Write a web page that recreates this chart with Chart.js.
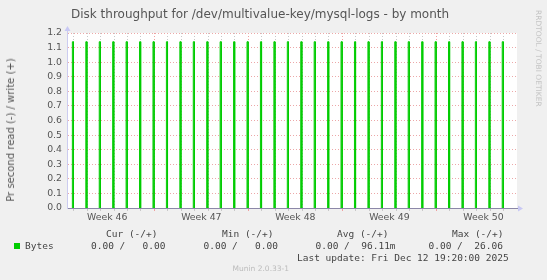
<!DOCTYPE html>
<html>
<head>
<meta charset="utf-8">
<script src="https://cdn.jsdelivr.net/npm/chart.js@4"></script>
<style>
  html, body { margin: 0; padding: 0; background: #f0f0f0; }
  #wrap { position: relative; width: 547px; height: 280px; overflow: hidden; background: #f0f0f0; }
  #wrap canvas { position: absolute; left: 0; top: 0; }
  .t { position: absolute; white-space: pre; line-height: 1; color: #444; font-family: "DejaVu Sans"; }
  .m { font-family: "DejaVu Sans Mono"; font-size: 9.5px; }
</style>
</head>
<body>
<div id="wrap">
  <canvas id="chart" width="547" height="280"></canvas>
  <div class="t" style="left:71px;top:8px;font-size:12px;color:#555">Disk throughput for /dev/multivalue-key/mysql-logs - by month</div>
  <div class="t" style="left:11px;top:130px;font-size:10px;color:#555;transform:translate(-50%,-50%) rotate(-90deg)">Pr second read (-) / write (+)</div>
  <div class="t" style="left:542px;top:10px;font-size:7.5px;color:#c4c4c4;transform-origin:0 0;transform:rotate(90deg)">RRDTOOL / TOBI OETIKER</div>

  <div class="t m" style="left:106px;top:229px">Cur (-/+)</div>
  <div class="t m" style="left:222px;top:229px">Min (-/+)</div>
  <div class="t m" style="left:337px;top:229px">Avg (-/+)</div>
  <div class="t m" style="left:452px;top:229px">Max (-/+)</div>

  <div style="position:absolute;left:13.5px;top:242.5px;width:6px;height:6px;background:#00cc00"></div>
  <div class="t m" style="left:25px;top:241px">Bytes</div>
  <div class="t m" style="left:91px;top:241px">0.00 /   0.00</div>
  <div class="t m" style="left:203.5px;top:241px">0.00 /   0.00</div>
  <div class="t m" style="left:315.5px;top:241px">0.00 /  96.11m</div>
  <div class="t m" style="left:428.5px;top:241px">0.00 /  26.06</div>

  <div class="t m" style="left:297px;top:252.7px">Last update: Fri Dec 12 19:20:00 2025</div>
  <div class="t" style="left:232.5px;top:265.3px;font-size:7.5px;color:#bbb">Munin 2.0.33-1</div>
</div>

<script>
// days counted from Monday 17 Nov 2025 00:00 (start of week 47)
const weekLabels = ["Week 46", "Week 47", "Week 48", "Week 49", "Week 50"];
const weekCenters = [-3.5, 3.5, 10.5, 17.5, 24.5];
const dayLines = [-6, -5, -4, -3, -2, -1, 0, 1, 2, 3, 4, 5, 6, 7, 8, 9, 10,
  11, 12, 13, 14, 15, 16, 17, 18, 19, 20, 21, 22, 23, 24, 25, 26];

// write bursts: start of the 2h sample (days) and its value
const spikeTimes = [-6.1, -5.1, -4.1, -3.1, -2.1, -1.1, -0.1, 0.9, 1.9, 2.9, 3.9,
  4.9, 5.9, 6.9, 7.9, 8.9, 9.9, 10.9, 11.9, 12.9, 13.9, 14.9, 15.9, 16.9, 17.9,
  18.9, 19.9, 20.9, 21.9, 22.9, 23.9, 24.9, 25.9];
const spikeValues = [1.14, 1.14, 1.14, 1.14, 1.14, 1.14, 1.14, 1.14, 1.14, 1.14, 1.14,
  1.14, 1.14, 1.14, 1.14, 1.14, 1.14, 1.14, 1.14, 1.14, 1.14, 1.14, 1.14, 1.14, 1.14,
  1.14, 1.14, 1.14, 1.14, 1.14, 1.14, 1.14, 1.14];
const SAMPLE = 0.083; // 2 hour consolidation step

const yTickValues = [0, 0.1, 0.2, 0.3, 0.4, 0.5, 0.6, 0.7, 0.8, 0.9, 1.0, 1.1, 1.2];

const writeData = [];
for (let i = 0; i < spikeTimes.length; i++) {
  const t = spikeTimes[i];
  writeData.push({ x: t, y: 0 }, { x: t, y: spikeValues[i] },
                 { x: t + SAMPLE, y: spikeValues[i] }, { x: t + SAMPLE, y: 0 });
}

const xTicks = dayLines.concat(weekCenters).sort((a, b) => a - b);

const frame = {
  id: "frame",
  beforeDraw(chart) {
    const { ctx, chartArea: a } = chart;
    ctx.save();
    ctx.fillStyle = "#ffffff";
    ctx.fillRect(a.left, a.top, a.right - a.left, a.bottom - a.top);
    ctx.restore();
  },
  afterDraw(chart) {
    const { ctx, chartArea: a } = chart;
    const x0 = Math.round(a.left) + 0.5;
    const yb = Math.round(a.bottom) + 0.5;
    ctx.save();
    ctx.strokeStyle = "#ccccf0";
    ctx.lineWidth = 1;
    ctx.beginPath();
    ctx.moveTo(x0, a.top);
    ctx.lineTo(x0, a.top - 3);
    ctx.stroke();
    ctx.fillStyle = "#c8c8f4";
    ctx.beginPath();
    ctx.moveTo(x0 - 3, a.top - 2);
    ctx.lineTo(x0 + 3, a.top - 2);
    ctx.lineTo(x0, a.top - 7);
    ctx.closePath();
    ctx.fill();
    ctx.beginPath();
    ctx.moveTo(a.right + 1, yb - 3);
    ctx.lineTo(a.right + 1, yb + 3);
    ctx.lineTo(a.right + 6, yb);
    ctx.closePath();
    ctx.fill();
    ctx.restore();
  }
};

new Chart(document.getElementById("chart"), {
  type: "line",
  data: {
    datasets: [{
      label: "Bytes",
      data: writeData,
      borderColor: "#00cc00",
      backgroundColor: "rgba(0, 200, 0, 0.45)",
      borderWidth: 1,
      pointRadius: 0,
      tension: 0,
      fill: "origin",
      segment: {
        borderColor: (c) => (c.p0.parsed.y === 0 && c.p1.parsed.y === 0 ? "rgba(0,0,0,0)" : undefined)
      }
    }]
  },
  options: {
    responsive: false,
    animation: false,
    events: [],
    layout: { padding: { top: 33, left: 0, right: 30, bottom: 52 } },
    plugins: { legend: { display: false }, title: { display: false }, tooltip: { enabled: false } },
    scales: {
      x: {
        type: "linear",
        min: -6.5,
        max: 27.0,
        afterBuildTicks: (s) => { s.ticks = xTicks.map((v) => ({ value: v })); },
        afterFit: (s) => { s.height = 20; },
        ticks: {
          autoSkip: false,
          maxRotation: 0,
          minRotation: 0,
          padding: 1,
          color: "#555",
          font: { family: "DejaVu Sans", size: 9.33 },
          callback: (v) => {
            const i = weekCenters.indexOf(v);
            return i >= 0 ? weekLabels[i] : "";
          }
        },
        grid: {
          color: (c) => {
            const v = c.tick ? c.tick.value : null;
            if (v === null || v % 1 !== 0) return "rgba(0,0,0,0)";
            return v % 7 === 0 ? "#f0a0a0" : "#c8c8c8";
          },
          tickLength: 3,
          lineWidth: 1
        },
        border: { display: true, color: "#8c88a8", dash: [1, 2] }
      },
      y: {
        min: 0,
        max: 1.2,
        afterBuildTicks: (s) => { s.ticks = yTickValues.map((v) => ({ value: v })); },
        afterFit: (s) => { s.width = 67; },
        ticks: {
          padding: 5,
          color: "#555",
          font: { family: "DejaVu Sans", size: 9.33 },
          callback: (v) => v.toFixed(1)
        },
        grid: {
          color: (c) => (c.tick && c.tick.value === 0 ? "rgba(0,0,0,0)" : "#eca8a8"),
          drawTicks: false,
          lineWidth: 1
        },
        border: { display: true, color: "#ccccf0", dash: [1, 2] }
      }
    }
  },
  plugins: [frame]
});
</script>
</body>
</html>
